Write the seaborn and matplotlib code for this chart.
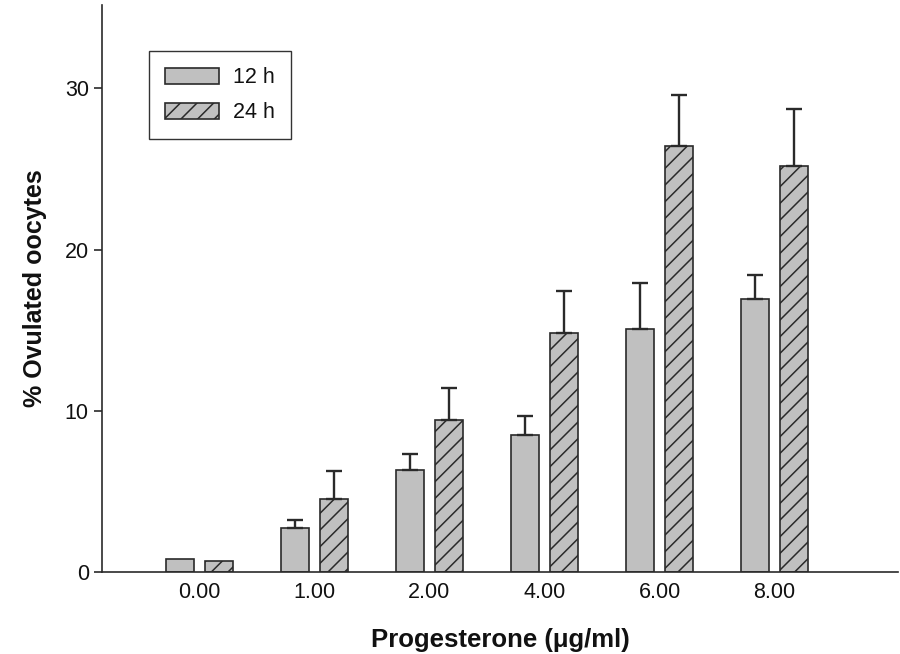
"""Bar chart: ovulated oocytes by progesterone dose at 12 h and 24 h."""

import matplotlib
matplotlib.use("Agg")
import matplotlib.pyplot as plt
from matplotlib.patches import Patch
import pandas as pd
import seaborn as sns

doses = ["0.00", "1.00", "2.00", "4.00", "6.00", "8.00"]
times = ["12 h", "24 h"]
mean_12h = [0.8, 2.7, 6.3, 8.5, 15.1, 16.9]
err_12h = [0.0, 0.5, 1.0, 1.2, 2.8, 1.5]
mean_24h = [0.7, 4.55, 9.4, 14.8, 26.4, 25.2]
err_24h = [0.0, 1.7, 2.0, 2.65, 3.2, 3.5]

EDGE = "#2a2a2a"
FILL = "#c0c0c0"
TEXT = "#111111"

df = pd.DataFrame({
    "dose": doses * 2,
    "time": [times[0]] * len(doses) + [times[1]] * len(doses),
    "value": mean_12h + mean_24h,
})
errors = {times[0]: err_12h, times[1]: err_24h}

sns.set_style("ticks")
plt.rcParams["font.family"] = ["Liberation Sans", "DejaVu Sans"]
plt.rcParams["hatch.color"] = EDGE
plt.rcParams["hatch.linewidth"] = 1.1
plt.rcParams["text.color"] = TEXT
plt.rcParams["axes.labelcolor"] = TEXT
plt.rcParams["xtick.color"] = TEXT
plt.rcParams["ytick.color"] = TEXT

fig, ax = plt.subplots(figsize=(9, 6.54), dpi=100)
fig.subplots_adjust(left=0.1133, right=0.998, bottom=0.1254, top=0.992)

sns.barplot(
    data=df, x="dose", y="value", hue="time", order=doses, hue_order=times,
    palette=[FILL, FILL], width=0.678, gap=0.283, edgecolor=EDGE,
    linewidth=1.2, errorbar=None, legend=False, ax=ax,
)

for t, container in zip(times, ax.containers):
    if t == "24 h":
        for p in container:
            p.set_hatch("//")
    xs, ys, es = [], [], []
    for p, e in zip(container, errors[t]):
        if e > 0:
            xs.append(p.get_x() + p.get_width() / 2)
            ys.append(p.get_height())
            es.append(e)
    ax.errorbar(xs, ys, yerr=[[0] * len(es), es], fmt="none", ecolor=EDGE,
                elinewidth=1.7, capsize=6, capthick=1.7, zorder=3)

ax.set_xlim(-0.843, 6.073)
ax.set_ylim(0, 35.15)
ax.set_yticks([0, 10, 20, 30])
ax.tick_params(axis="y", length=6, width=1.2, labelsize=15.5, color=EDGE)
ax.tick_params(axis="x", length=0, labelsize=15.5, pad=7)
for side in ["left", "bottom"]:
    ax.spines[side].set_linewidth(1.2)
    ax.spines[side].set_color(EDGE)
sns.despine(ax=ax)

ax.set_xlabel("Progesterone (\u03bcg/ml)", fontsize=18.5, fontweight="bold", labelpad=18)
ax.set_ylabel("% Ovulated oocytes", fontsize=18, fontweight="bold", labelpad=13)

handles = [
    Patch(facecolor=FILL, edgecolor=EDGE, linewidth=1.2, label=times[0]),
    Patch(facecolor=FILL, edgecolor=EDGE, linewidth=1.2, hatch="//", label=times[1]),
]
leg = ax.legend(
    handles=handles, loc="upper left", bbox_to_anchor=(0.059, 0.919),
    borderaxespad=0, fontsize=15.5, fancybox=False, frameon=True,
    edgecolor="black", handlelength=2.5, handleheight=0.75,
    labelspacing=0.65, borderpad=0.75, handletextpad=0.65,
)
leg.get_frame().set_linewidth(1.0)

fig.savefig("out.png", dpi=100)
